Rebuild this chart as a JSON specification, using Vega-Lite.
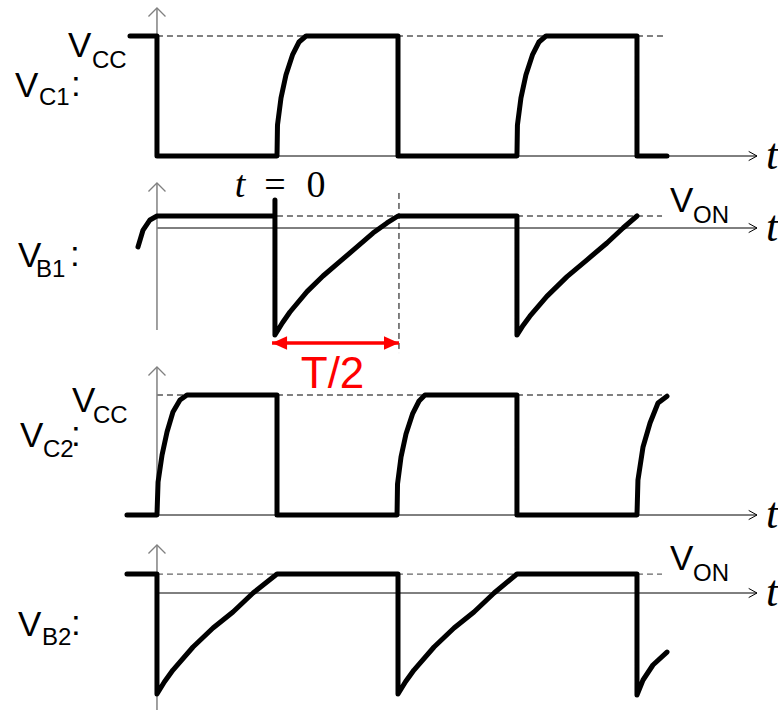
{
  "$schema": "https://vega.github.io/schema/vega-lite/v6.json",
  "padding": 0,
  "spacing": 0,
  "bounds": "flush",
  "config": {"view": {"stroke": null}},
  "datasets": {
    "wave": [
      {"p":1,"i":0,"t":-1.215,"v":1},{"p":1,"i":1,"t":-0.992,"v":1},{"p":1,"i":2,"t":-0.992,"v":0},{"p":1,"i":3,"t":0,"v":0},
      {"p":1,"i":4,"t":0.004,"v":0.258},{"p":1,"i":5,"t":0.033,"v":0.483},{"p":1,"i":6,"t":0.074,"v":0.675},{"p":1,"i":7,"t":0.128,"v":0.842},
      {"p":1,"i":8,"t":0.182,"v":0.95},{"p":1,"i":9,"t":0.24,"v":1},{"p":1,"i":10,"t":1,"v":1},{"p":1,"i":11,"t":1,"v":0},
      {"p":1,"i":12,"t":1.983,"v":0},{"p":1,"i":13,"t":1.987,"v":0.258},{"p":1,"i":14,"t":2.016,"v":0.483},{"p":1,"i":15,"t":2.057,"v":0.675},
      {"p":1,"i":16,"t":2.111,"v":0.842},{"p":1,"i":17,"t":2.165,"v":0.95},{"p":1,"i":18,"t":2.223,"v":1},{"p":1,"i":19,"t":2.975,"v":1},
      {"p":1,"i":20,"t":2.975,"v":0},{"p":1,"i":21,"t":3.223,"v":0},

      {"p":2,"i":0,"t":-1.149,"v":-0.158},{"p":2,"i":1,"t":-1.107,"v":-0.017},{"p":2,"i":2,"t":-1.05,"v":0.067},{"p":2,"i":3,"t":-0.992,"v":0.1},
      {"p":2,"i":4,"t":-0.017,"v":0.1},{"p":2,"i":5,"t":-0.017,"v":0.233},{"p":2,"i":6,"t":-0.017,"v":-0.892},{"p":2,"i":7,"t":0.045,"v":-0.79},
      {"p":2,"i":8,"t":0.107,"v":-0.7},{"p":2,"i":9,"t":0.248,"v":-0.53},{"p":2,"i":10,"t":0.38,"v":-0.4},{"p":2,"i":11,"t":0.521,"v":-0.278},
      {"p":2,"i":12,"t":0.661,"v":-0.158},{"p":2,"i":13,"t":0.793,"v":-0.042},{"p":2,"i":14,"t":0.909,"v":0.042},{"p":2,"i":15,"t":1,"v":0.1},
      {"p":2,"i":16,"t":1.983,"v":0.1},{"p":2,"i":17,"t":1.983,"v":-0.892},{"p":2,"i":18,"t":2.035,"v":-0.81},{"p":2,"i":19,"t":2.09,"v":-0.735},
      {"p":2,"i":20,"t":2.23,"v":-0.57},{"p":2,"i":21,"t":2.397,"v":-0.405},{"p":2,"i":22,"t":2.56,"v":-0.267},{"p":2,"i":23,"t":2.727,"v":-0.125},
      {"p":2,"i":24,"t":2.86,"v":0},{"p":2,"i":25,"t":2.975,"v":0.1},

      {"p":3,"i":0,"t":-1.24,"v":0},{"p":3,"i":1,"t":-0.992,"v":0},{"p":3,"i":2,"t":-0.983,"v":0.275},{"p":3,"i":3,"t":-0.95,"v":0.5},
      {"p":3,"i":4,"t":-0.909,"v":0.692},{"p":3,"i":5,"t":-0.86,"v":0.858},{"p":3,"i":6,"t":-0.802,"v":0.958},{"p":3,"i":7,"t":-0.744,"v":1},
      {"p":3,"i":8,"t":0,"v":1},{"p":3,"i":9,"t":0,"v":0},{"p":3,"i":10,"t":0.992,"v":0},{"p":3,"i":11,"t":0.996,"v":0.258},
      {"p":3,"i":12,"t":1.025,"v":0.483},{"p":3,"i":13,"t":1.066,"v":0.675},{"p":3,"i":14,"t":1.12,"v":0.842},{"p":3,"i":15,"t":1.174,"v":0.95},
      {"p":3,"i":16,"t":1.223,"v":1},{"p":3,"i":17,"t":1.983,"v":1},{"p":3,"i":18,"t":1.983,"v":0},{"p":3,"i":19,"t":2.975,"v":0},
      {"p":3,"i":20,"t":2.983,"v":0.29},{"p":3,"i":21,"t":3.025,"v":0.567},{"p":3,"i":22,"t":3.083,"v":0.767},{"p":3,"i":23,"t":3.149,"v":0.933},
      {"p":3,"i":24,"t":3.223,"v":0.99},

      {"p":4,"i":0,"t":-1.24,"v":0.158},{"p":4,"i":1,"t":-0.992,"v":0.158},{"p":4,"i":2,"t":-0.992,"v":-0.842},{"p":4,"i":3,"t":-0.93,"v":-0.74},
      {"p":4,"i":4,"t":-0.86,"v":-0.642},{"p":4,"i":5,"t":-0.694,"v":-0.45},{"p":4,"i":6,"t":-0.529,"v":-0.292},{"p":4,"i":7,"t":-0.364,"v":-0.158},
      {"p":4,"i":8,"t":-0.198,"v":0},{"p":4,"i":9,"t":0,"v":0.158},{"p":4,"i":10,"t":1,"v":0.158},{"p":4,"i":11,"t":1,"v":-0.842},
      {"p":4,"i":12,"t":1.062,"v":-0.74},{"p":4,"i":13,"t":1.132,"v":-0.642},{"p":4,"i":14,"t":1.298,"v":-0.45},{"p":4,"i":15,"t":1.463,"v":-0.292},
      {"p":4,"i":16,"t":1.628,"v":-0.158},{"p":4,"i":17,"t":1.794,"v":0},{"p":4,"i":18,"t":1.983,"v":0.158},{"p":4,"i":19,"t":2.975,"v":0.158},
      {"p":4,"i":20,"t":2.975,"v":-0.85},{"p":4,"i":21,"t":3.025,"v":-0.725},{"p":4,"i":22,"t":3.107,"v":-0.6},{"p":4,"i":23,"t":3.223,"v":-0.492}
    ],
    "lines": [
      {"p":1,"s":"taxis","i":0,"t":-0.992,"v":0},{"p":1,"s":"taxis","i":1,"t":3.967,"v":0},
      {"p":1,"s":"vaxis","i":0,"t":-0.992,"v":0},{"p":1,"s":"vaxis","i":1,"t":-0.992,"v":1.233},
      {"p":1,"s":"dash","i":0,"t":-0.992,"v":1},{"p":1,"s":"dash","i":1,"t":3.207,"v":1},
      {"p":2,"s":"taxis","i":0,"t":-0.992,"v":0},{"p":2,"s":"taxis","i":1,"t":3.967,"v":0},
      {"p":2,"s":"vaxis","i":0,"t":-0.992,"v":-0.85},{"p":2,"s":"vaxis","i":1,"t":-0.992,"v":0.375},
      {"p":2,"s":"dash","i":0,"t":-0.992,"v":0.1},{"p":2,"s":"dash","i":1,"t":3.182,"v":0.1},
      {"p":2,"s":"vdash","i":0,"t":1.008,"v":0.292},{"p":2,"s":"vdash","i":1,"t":1.008,"v":-1.042},
      {"p":3,"s":"taxis","i":0,"t":-0.992,"v":0},{"p":3,"s":"taxis","i":1,"t":3.967,"v":0},
      {"p":3,"s":"vaxis","i":0,"t":-0.992,"v":0},{"p":3,"s":"vaxis","i":1,"t":-0.992,"v":1.233},
      {"p":3,"s":"dash","i":0,"t":-0.992,"v":1},{"p":3,"s":"dash","i":1,"t":3.182,"v":1},
      {"p":4,"s":"taxis","i":0,"t":-0.992,"v":0},{"p":4,"s":"taxis","i":1,"t":3.967,"v":0},
      {"p":4,"s":"vaxis","i":0,"t":-0.992,"v":-0.975},{"p":4,"s":"vaxis","i":1,"t":-0.992,"v":0.4},
      {"p":4,"s":"dashg","i":0,"t":-0.992,"v":0.158},{"p":4,"s":"dashg","i":1,"t":3.182,"v":0.158}
    ],
    "tips": [
      {"p":1,"dir":"up","t":-0.992,"v":1.233},{"p":1,"dir":"right","t":3.967,"v":0},
      {"p":2,"dir":"up","t":-0.992,"v":0.375},{"p":2,"dir":"right","t":3.967,"v":0},
      {"p":3,"dir":"up","t":-0.992,"v":1.233},{"p":3,"dir":"right","t":3.967,"v":0},
      {"p":4,"dir":"up","t":-0.992,"v":0.4},{"p":4,"dir":"right","t":3.967,"v":0}
    ],
    "span": [
      {"p":2,"end":"left","t":-0.041,"v":-0.958},{"p":2,"end":"right","t":1.008,"v":-0.958}
    ],
    "labels": [
      {"p":1,"role":"V","text":"V","t":-1.727,"v":0.825},
      {"p":1,"role":"sub","text":"CC","t":-1.529,"v":0.733},
      {"p":1,"role":"V","text":"V","t":-2.165,"v":0.492},
      {"p":1,"role":"sub","text":"C1","t":-1.967,"v":0.425},
      {"p":1,"role":"V","text":":","t":-1.702,"v":0.5},
      {"p":1,"role":"ti","text":"t","t":4.041,"v":-0.108},
      {"p":2,"role":"V","text":"V","t":-2.14,"v":-0.325},
      {"p":2,"role":"sub","text":"B1","t":-1.992,"v":-0.408},
      {"p":2,"role":"V","text":":","t":-1.711,"v":-0.317},
      {"p":2,"role":"V","text":"V","t":3.248,"v":0.133},
      {"p":2,"role":"sub","text":"ON","t":3.438,"v":0.042},
      {"p":2,"role":"ti","text":"t","t":4.041,"v":-0.108},
      {"p":2,"role":"tz","text":"t","t":-0.306,"v":0.258},
      {"p":2,"role":"eq","text":"=","t":-0.017,"v":0.258},
      {"p":2,"role":"eq","text":"0","t":0.322,"v":0.258},
      {"p":2,"role":"red","text":"T/2","t":0.459,"v":-1.333},
      {"p":3,"role":"V","text":"V","t":-1.694,"v":0.858},
      {"p":3,"role":"sub","text":"CC","t":-1.521,"v":0.767},
      {"p":3,"role":"V","text":"V","t":-2.124,"v":0.567},
      {"p":3,"role":"sub","text":"C2","t":-1.934,"v":0.483},
      {"p":3,"role":"V","text":":","t":-1.702,"v":0.575},
      {"p":3,"role":"ti","text":"t","t":4.041,"v":-0.108},
      {"p":4,"role":"V","text":"V","t":-2.14,"v":-0.358},
      {"p":4,"role":"sub","text":"B2","t":-1.942,"v":-0.433},
      {"p":4,"role":"V","text":":","t":-1.702,"v":-0.35},
      {"p":4,"role":"V","text":"V","t":3.248,"v":0.192},
      {"p":4,"role":"sub","text":"ON","t":3.438,"v":0.1},
      {"p":4,"role":"ti","text":"t","t":4.041,"v":-0.108}
    ]
  },
  "vconcat": [
    {
      "width": 778, "height": 170,
      "encoding": {
        "x": {"field":"t","type":"quantitative","scale":{"domain":[-2.2893,4.1405],"nice":false,"zero":false},"axis":null},
        "y": {"field":"v","type":"quantitative","scale":{"domain":[-0.11667,1.3],"nice":false,"zero":false},"axis":null}
      },
      "layer": [
        {"data":{"name":"lines"},"transform":[{"filter":"datum.p==1 && datum.s=='dash'"}],"mark":{"type":"line","color":"black","strokeWidth":1,"strokeDash":[6,4]},"encoding":{"detail":{"field":"s"},"order":{"field":"i","type":"quantitative"}}},
        {"data":{"name":"lines"},"transform":[{"filter":"datum.p==1 && datum.s=='taxis'"}],"mark":{"type":"line","color":"black","strokeWidth":1},"encoding":{"order":{"field":"i","type":"quantitative"}}},
        {"data":{"name":"lines"},"transform":[{"filter":"datum.p==1 && datum.s=='vaxis'"}],"mark":{"type":"line","color":"#808080","strokeWidth":1.5},"encoding":{"order":{"field":"i","type":"quantitative"}}},
        {"data":{"name":"tips"},"transform":[{"filter":"datum.p==1 && datum.dir=='up'"}],"mark":{"type":"point","shape":"M-1,1L0,0L1,1","filled":false,"stroke":"#808080","strokeWidth":1.3,"size":289,"opacity":1}},
        {"data":{"name":"tips"},"transform":[{"filter":"datum.p==1 && datum.dir=='right'"}],"mark":{"type":"point","shape":"M-1,-0.55L0,0L-1,0.55","filled":false,"stroke":"black","strokeWidth":1,"size":276,"opacity":1}},
        {"data":{"name":"wave"},"transform":[{"filter":"datum.p==1"}],"mark":{"type":"line","color":"black","strokeWidth":5,"strokeCap":"round","strokeJoin":"round"},"encoding":{"order":{"field":"i","type":"quantitative"}}},
        {"data":{"name":"labels"},"transform":[{"filter":"datum.p==1 && datum.role=='V'"}],"mark":{"type":"text","font":"Liberation Sans","fontSize":35,"align":"left","baseline":"alphabetic","color":"black"},"encoding":{"text":{"field":"text"}}},
        {"data":{"name":"labels"},"transform":[{"filter":"datum.p==1 && datum.role=='sub'"}],"mark":{"type":"text","font":"Liberation Sans","fontSize":24,"align":"left","baseline":"alphabetic","color":"black"},"encoding":{"text":{"field":"text"}}},
        {"data":{"name":"labels"},"transform":[{"filter":"datum.p==1 && datum.role=='ti'"}],"mark":{"type":"text","font":"Liberation Serif","fontStyle":"italic","fontSize":44,"align":"left","baseline":"alphabetic","color":"black"},"encoding":{"text":{"field":"text"}}}
      ]
    },
    {
      "width": 778, "height": 195,
      "encoding": {
        "x": {"field":"t","type":"quantitative","scale":{"domain":[-2.2893,4.1405],"nice":false,"zero":false},"axis":null},
        "y": {"field":"v","type":"quantitative","scale":{"domain":[-1.14167,0.48333],"nice":false,"zero":false},"axis":null}
      },
      "layer": [
        {"data":{"name":"lines"},"transform":[{"filter":"datum.p==2 && (datum.s=='dash' || datum.s=='vdash')"}],"mark":{"type":"line","color":"black","strokeWidth":1,"strokeDash":[6,4]},"encoding":{"detail":{"field":"s"},"order":{"field":"i","type":"quantitative"}}},
        {"data":{"name":"lines"},"transform":[{"filter":"datum.p==2 && datum.s=='taxis'"}],"mark":{"type":"line","color":"black","strokeWidth":1},"encoding":{"order":{"field":"i","type":"quantitative"}}},
        {"data":{"name":"lines"},"transform":[{"filter":"datum.p==2 && datum.s=='vaxis'"}],"mark":{"type":"line","color":"#808080","strokeWidth":1.5},"encoding":{"order":{"field":"i","type":"quantitative"}}},
        {"data":{"name":"tips"},"transform":[{"filter":"datum.p==2 && datum.dir=='up'"}],"mark":{"type":"point","shape":"M-1,1L0,0L1,1","filled":false,"stroke":"#808080","strokeWidth":1.3,"size":289,"opacity":1}},
        {"data":{"name":"tips"},"transform":[{"filter":"datum.p==2 && datum.dir=='right'"}],"mark":{"type":"point","shape":"M-1,-0.55L0,0L-1,0.55","filled":false,"stroke":"black","strokeWidth":1,"size":276,"opacity":1}},
        {"data":{"name":"wave"},"transform":[{"filter":"datum.p==2"}],"mark":{"type":"line","color":"black","strokeWidth":5,"strokeCap":"round","strokeJoin":"round"},"encoding":{"order":{"field":"i","type":"quantitative"}}},
        {"data":{"name":"span"},"mark":{"type":"line","color":"#ff0000","strokeWidth":3.5},"encoding":{"order":{"field":"t","type":"quantitative"}}},
        {"data":{"name":"span"},"transform":[{"filter":"datum.end=='left'"}],"mark":{"type":"point","shape":"M0,0L1,-0.45L1,0.45Z","filled":true,"fill":"#ff0000","strokeWidth":0,"size":900,"opacity":1}},
        {"data":{"name":"span"},"transform":[{"filter":"datum.end=='right'"}],"mark":{"type":"point","shape":"M0,0L-1,-0.45L-1,0.45Z","filled":true,"fill":"#ff0000","strokeWidth":0,"size":900,"opacity":1}},
        {"data":{"name":"labels"},"transform":[{"filter":"datum.p==2 && datum.role=='V'"}],"mark":{"type":"text","font":"Liberation Sans","fontSize":35,"align":"left","baseline":"alphabetic","color":"black"},"encoding":{"text":{"field":"text"}}},
        {"data":{"name":"labels"},"transform":[{"filter":"datum.p==2 && datum.role=='sub'"}],"mark":{"type":"text","font":"Liberation Sans","fontSize":24,"align":"left","baseline":"alphabetic","color":"black"},"encoding":{"text":{"field":"text"}}},
        {"data":{"name":"labels"},"transform":[{"filter":"datum.p==2 && datum.role=='ti'"}],"mark":{"type":"text","font":"Liberation Serif","fontStyle":"italic","fontSize":44,"align":"left","baseline":"alphabetic","color":"black"},"encoding":{"text":{"field":"text"}}},
        {"data":{"name":"labels"},"transform":[{"filter":"datum.p==2 && datum.role=='tz'"}],"mark":{"type":"text","font":"Liberation Serif","fontStyle":"italic","fontSize":38,"align":"center","baseline":"alphabetic","color":"black"},"encoding":{"text":{"field":"text"}}},
        {"data":{"name":"labels"},"transform":[{"filter":"datum.p==2 && datum.role=='eq'"}],"mark":{"type":"text","font":"Liberation Serif","fontSize":38,"align":"center","baseline":"alphabetic","color":"black"},"encoding":{"text":{"field":"text"}}},
        {"data":{"name":"labels"},"transform":[{"filter":"datum.p==2 && datum.role=='red'"}],"mark":{"type":"text","font":"Liberation Sans","fontSize":44,"align":"center","baseline":"alphabetic","color":"#ff0000"},"encoding":{"text":{"field":"text"}}}
      ]
    },
    {
      "width": 778, "height": 175,
      "encoding": {
        "x": {"field":"t","type":"quantitative","scale":{"domain":[-2.2893,4.1405],"nice":false,"zero":false},"axis":null},
        "y": {"field":"v","type":"quantitative","scale":{"domain":[-0.20833,1.25],"nice":false,"zero":false},"axis":null}
      },
      "layer": [
        {"data":{"name":"lines"},"transform":[{"filter":"datum.p==3 && datum.s=='dash'"}],"mark":{"type":"line","color":"black","strokeWidth":1,"strokeDash":[6,4]},"encoding":{"detail":{"field":"s"},"order":{"field":"i","type":"quantitative"}}},
        {"data":{"name":"lines"},"transform":[{"filter":"datum.p==3 && datum.s=='taxis'"}],"mark":{"type":"line","color":"black","strokeWidth":1},"encoding":{"order":{"field":"i","type":"quantitative"}}},
        {"data":{"name":"lines"},"transform":[{"filter":"datum.p==3 && datum.s=='vaxis'"}],"mark":{"type":"line","color":"#808080","strokeWidth":1.5},"encoding":{"order":{"field":"i","type":"quantitative"}}},
        {"data":{"name":"tips"},"transform":[{"filter":"datum.p==3 && datum.dir=='up'"}],"mark":{"type":"point","shape":"M-1,1L0,0L1,1","filled":false,"stroke":"#808080","strokeWidth":1.3,"size":289,"opacity":1}},
        {"data":{"name":"tips"},"transform":[{"filter":"datum.p==3 && datum.dir=='right'"}],"mark":{"type":"point","shape":"M-1,-0.55L0,0L-1,0.55","filled":false,"stroke":"black","strokeWidth":1,"size":276,"opacity":1}},
        {"data":{"name":"wave"},"transform":[{"filter":"datum.p==3"}],"mark":{"type":"line","color":"black","strokeWidth":5,"strokeCap":"round","strokeJoin":"round"},"encoding":{"order":{"field":"i","type":"quantitative"}}},
        {"data":{"name":"labels"},"transform":[{"filter":"datum.p==3 && datum.role=='V'"}],"mark":{"type":"text","font":"Liberation Sans","fontSize":35,"align":"left","baseline":"alphabetic","color":"black"},"encoding":{"text":{"field":"text"}}},
        {"data":{"name":"labels"},"transform":[{"filter":"datum.p==3 && datum.role=='sub'"}],"mark":{"type":"text","font":"Liberation Sans","fontSize":24,"align":"left","baseline":"alphabetic","color":"black"},"encoding":{"text":{"field":"text"}}},
        {"data":{"name":"labels"},"transform":[{"filter":"datum.p==3 && datum.role=='ti'"}],"mark":{"type":"text","font":"Liberation Serif","fontStyle":"italic","fontSize":44,"align":"left","baseline":"alphabetic","color":"black"},"encoding":{"text":{"field":"text"}}}
      ]
    },
    {
      "width": 778, "height": 170,
      "encoding": {
        "x": {"field":"t","type":"quantitative","scale":{"domain":[-2.2893,4.1405],"nice":false,"zero":false},"axis":null},
        "y": {"field":"v","type":"quantitative","scale":{"domain":[-0.975,0.44167],"nice":false,"zero":false},"axis":null}
      },
      "layer": [
        {"data":{"name":"lines"},"transform":[{"filter":"datum.p==4 && datum.s=='dashg'"}],"mark":{"type":"line","color":"#666666","strokeWidth":1.2,"strokeDash":[6,4]},"encoding":{"detail":{"field":"s"},"order":{"field":"i","type":"quantitative"}}},
        {"data":{"name":"lines"},"transform":[{"filter":"datum.p==4 && datum.s=='taxis'"}],"mark":{"type":"line","color":"black","strokeWidth":1},"encoding":{"order":{"field":"i","type":"quantitative"}}},
        {"data":{"name":"lines"},"transform":[{"filter":"datum.p==4 && datum.s=='vaxis'"}],"mark":{"type":"line","color":"#808080","strokeWidth":1.5},"encoding":{"order":{"field":"i","type":"quantitative"}}},
        {"data":{"name":"tips"},"transform":[{"filter":"datum.p==4 && datum.dir=='up'"}],"mark":{"type":"point","shape":"M-1,1L0,0L1,1","filled":false,"stroke":"#808080","strokeWidth":1.3,"size":289,"opacity":1}},
        {"data":{"name":"tips"},"transform":[{"filter":"datum.p==4 && datum.dir=='right'"}],"mark":{"type":"point","shape":"M-1,-0.55L0,0L-1,0.55","filled":false,"stroke":"black","strokeWidth":1,"size":276,"opacity":1}},
        {"data":{"name":"wave"},"transform":[{"filter":"datum.p==4"}],"mark":{"type":"line","color":"black","strokeWidth":5,"strokeCap":"round","strokeJoin":"round"},"encoding":{"order":{"field":"i","type":"quantitative"}}},
        {"data":{"name":"labels"},"transform":[{"filter":"datum.p==4 && datum.role=='V'"}],"mark":{"type":"text","font":"Liberation Sans","fontSize":35,"align":"left","baseline":"alphabetic","color":"black"},"encoding":{"text":{"field":"text"}}},
        {"data":{"name":"labels"},"transform":[{"filter":"datum.p==4 && datum.role=='sub'"}],"mark":{"type":"text","font":"Liberation Sans","fontSize":24,"align":"left","baseline":"alphabetic","color":"black"},"encoding":{"text":{"field":"text"}}},
        {"data":{"name":"labels"},"transform":[{"filter":"datum.p==4 && datum.role=='ti'"}],"mark":{"type":"text","font":"Liberation Serif","fontStyle":"italic","fontSize":44,"align":"left","baseline":"alphabetic","color":"black"},"encoding":{"text":{"field":"text"}}}
      ]
    }
  ]
}
